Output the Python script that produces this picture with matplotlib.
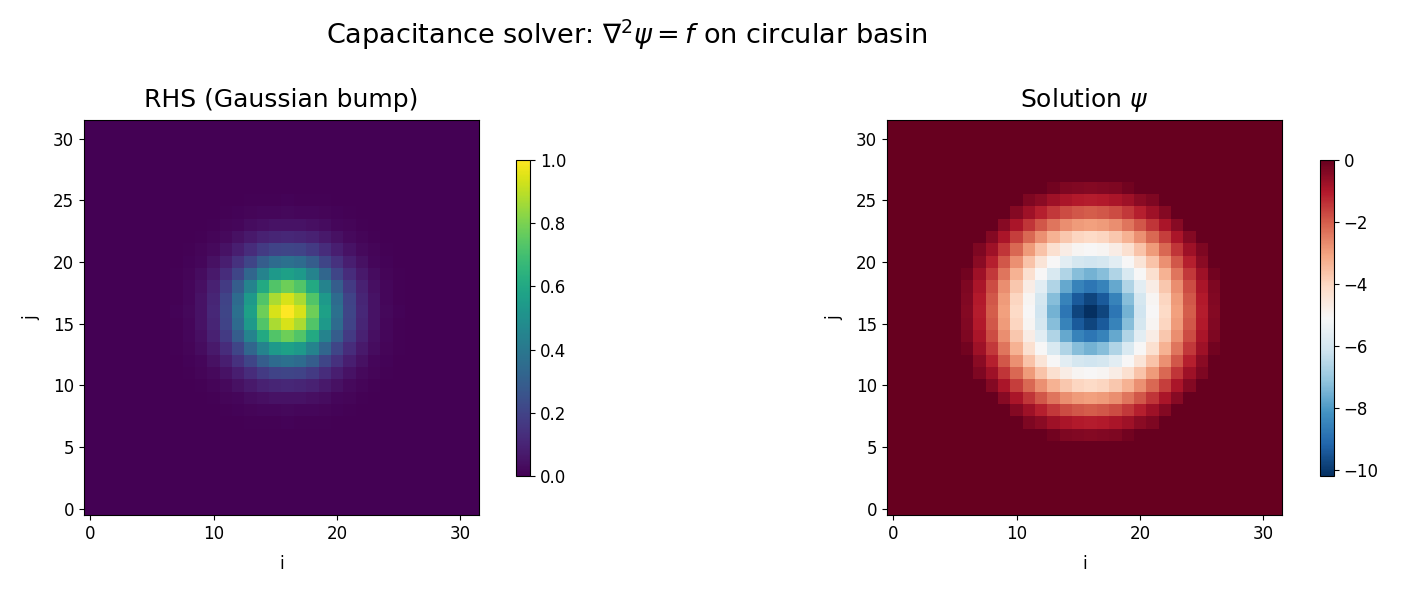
import numpy as np
import matplotlib
matplotlib.use("Agg")
import matplotlib.pyplot as plt

N = 32
center = (16, 16)
# radial profiles
radius = [0, 1, 2, 3, 4, 5, 6, 7, 8, 9, 10, 10.4, 10.5, 30]
rhs_profile = [1.0, 0.94, 0.78, 0.57, 0.37, 0.21, 0.11, 0.05, 0.02, 0.008, 0.003, 0.002, 0.0, 0.0]
psi_profile = [-10.2, -9.8, -8.8, -7.5, -6.1, -5.1, -4.1, -3.0, -2.0, -1.1, -0.4, -0.3, 0.0, 0.0]

ii, jj = np.meshgrid(np.arange(N), np.arange(N))
rr = np.hypot(ii - center[0], jj - center[1])
rhs = np.interp(rr, radius, rhs_profile)
psi = np.interp(rr, radius, psi_profile)

fig = plt.figure(figsize=(14.08, 5.93), dpi=100)
fig.suptitle(r"Capacitance solver: $\nabla^2\psi = f$ on circular basin", fontsize=19.5, x=0.445, y=0.97)
W, H = 1408, 593
ax1 = fig.add_axes([84/W, 1-515/H, 395/W, 395/H])
cax1 = fig.add_axes([516/W, 1-476/H, 14/W, 316/H])
ax2 = fig.add_axes([887/W, 1-515/H, 395/W, 395/H])
cax2 = fig.add_axes([1320/W, 1-476/H, 14/W, 316/H])

im1 = ax1.imshow(rhs, origin="lower", cmap="viridis", vmin=0, vmax=1)
ax1.set_title("RHS (Gaussian bump)", fontsize=18, pad=9)
im2 = ax2.imshow(psi, origin="lower", cmap="RdBu_r", vmin=-10.2, vmax=0)
ax2.set_title(r"Solution $\psi$", fontsize=18, pad=9)
for ax in (ax1, ax2):
    ax.set_xlabel("i", fontsize=12, labelpad=9)
    ax.set_ylabel("j", fontsize=12, labelpad=9)
    ax.set_xticks([0, 10, 20, 30])
    ax.set_yticks([0, 5, 10, 15, 20, 25, 30])
    ax.tick_params(labelsize=12)
fig.colorbar(im1, cax=cax1)
cb2 = fig.colorbar(im2, cax=cax2)
cb2.set_ticks([0, -2, -4, -6, -8, -10])
for c in (cax1, cax2):
    c.tick_params(labelsize=12)
fig.savefig("out.png", dpi=100)
